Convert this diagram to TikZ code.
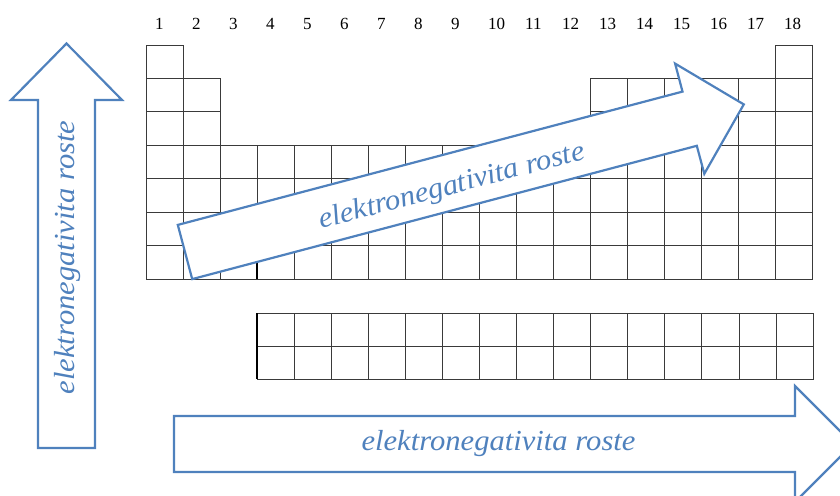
\documentclass[tikz,border=0pt]{standalone}
\usepackage{fontspec}
\setmainfont{Liberation Serif}
\definecolor{arrowblue}{HTML}{4F81BD}
\definecolor{gridgray}{HTML}{3A3A3A}
\tikzset{
  cell/.style={draw=gridgray, line width=0.8pt},
  bigarrow/.style={draw=arrowblue, line width=2.2pt, fill=white, line join=miter},
  arrowtext/.style={text=arrowblue, font=\itshape\fontsize{29}{33}\selectfont, inner sep=0pt},
  grouplabel/.style={anchor=base west, inner sep=0pt, font=\fontsize{17}{20}\selectfont}
}
\begin{document}
\begin{tikzpicture}[x=1pt,y=-1pt]
\useasboundingbox (0,0) rectangle (840,495);
\clip (0,0) rectangle (840,495);
\def\cw{37}
\def\rh{33.43}
% group labels
\foreach \c in {1,...,18}{
  \node[grouplabel] (g\c) at ({146+(\c-1)*\cw+9},30) {\c};
}
% main table
\foreach \c in {1,18}{
  \draw[cell] ({146+(\c-1)*\cw},45) rectangle ++(\cw,\rh);
}
\foreach \r in {2,3}{
  \foreach \c in {1,2,13,14,15,16,17,18}{
    \draw[cell] ({146+(\c-1)*\cw},{45+(\r-1)*\rh}) rectangle ++(\cw,\rh);
  }
}
\foreach \r in {4,...,7}{
  \foreach \c in {1,...,18}{
    \draw[cell] ({146+(\c-1)*\cw},{45+(\r-1)*\rh}) rectangle ++(\cw,\rh);
  }
}
\draw[line width=2.6pt, black] (257,246) -- (257,279);
% f-block rows
\foreach \r in {0,1}{
  \foreach \c in {0,...,14}{
    \draw[cell] ({257+\c*37.07},{313+\r*33}) rectangle ++(37.07,33);
  }
}
\draw[line width=2.6pt, black] (257,313) -- (257,379);
% left vertical arrow
\draw[bigarrow] (38,448) -- (38,100) -- (11,100) -- (66.5,43.5) -- (122,100) -- (95,100) -- (95,448) -- cycle;
\node[arrowtext, rotate=90, xscale=1.055] (ltext) at (68,257.5) {elektronegativita roste};
% bottom horizontal arrow
\draw[bigarrow] (174,416) -- (795,416) -- (795,386) -- (853,444) -- (795,502) -- (795,472) -- (174,472) -- cycle;
\node[arrowtext, xscale=1.055] (btext) at (498.5,444) {elektronegativita roste};
% diagonal arrow
\draw[bigarrow] (192.2,279.1) -- (177.8,224.9) -- (682.5,91.6) -- (675.1,63.6) -- (743.8,104.4) -- (704.3,173.8) -- (696.8,145.8) -- cycle;
\node[arrowtext, rotate=14.8, xscale=1.055] (dtext) at (452,187) {elektronegativita roste};
\end{tikzpicture}
\end{document}
